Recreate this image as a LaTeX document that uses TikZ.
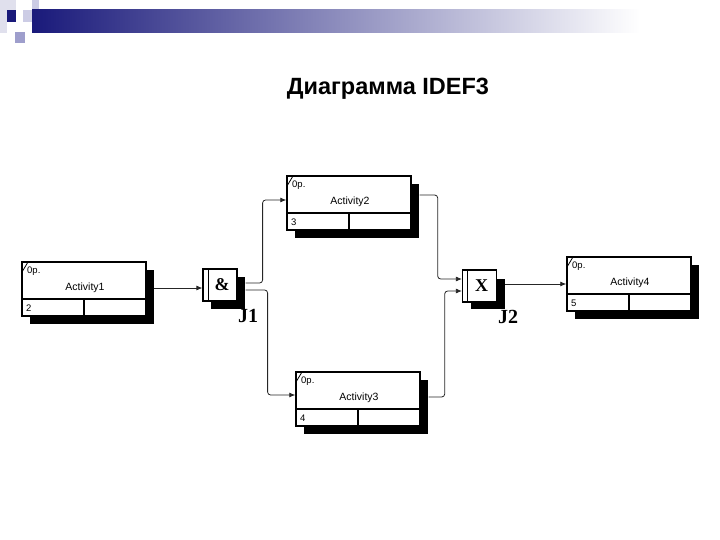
\documentclass[tikz,border=0pt]{standalone}
\usepackage{fontspec}
\setmainfont{Liberation Sans}
\newfontfamily\serifb{Liberation Serif}
\usetikzlibrary{calc,arrows.meta}
\definecolor{navy}{rgb}{0.10,0.10,0.48}
\definecolor{pale}{rgb}{0.88,0.88,0.93}
\definecolor{lav}{rgb}{0.80,0.80,0.90}
\definecolor{lav2}{rgb}{0.62,0.62,0.80}
\tikzset{
  actbox/.style={draw, line width=1.4pt, fill=white, minimum width=124pt, minimum height=54pt, inner sep=0pt},
  jbox/.style={draw, line width=1.2pt, fill=white, minimum width=34pt, minimum height=32pt, inner sep=0pt,
    font=\serifb\bfseries\fontsize{18}{18}\selectfont},
  jlbl/.style={font=\serifb\bfseries\fontsize{20}{20}\selectfont, inner sep=0pt},
  acttext/.style={font=\fontsize{10.5}{11}\selectfont, inner sep=0pt},
  smalltext/.style={font=\fontsize{9.5}{10}\selectfont, inner sep=0pt, anchor=west},
  conn/.style={draw=black!85, line width=0.8pt, rounded corners=3pt},
  arr/.style={-{Latex[length=6pt,width=5pt]}},
  shadowfill/.style={fill=black}
}
\newcommand\actv[5]{%
  \fill[shadowfill] (#2+8,#3+8) rectangle (#2+132,#3+62);
  \node[actbox] (#1) at (#2+62,#3+27) {};
  \draw[line width=1.4pt] (#2,#3+37) -- (#2+124,#3+37);
  \draw[line width=1.2pt] (#2+62,#3+37) -- (#2+62,#3+54);
  \draw[line width=0.8pt] (#2,#3+10) -- (#2+6,#3);
  \node[smalltext] (#1-op) at (#2+5,#3+9) {0p.};
  \node[acttext] (#1-t) at (#2+63,#3+26) {#4};
  \node[smalltext] (#1-n) at (#2+4,#3+46) {#5};
}
\begin{document}
\begin{tikzpicture}[x=1pt,y=-1pt]
\useasboundingbox (0,0) rectangle (720,540);
% header decoration
\fill[pale] (0,0) rectangle (16,10);
\fill[pale] (0,10) rectangle (7,33);
\fill[navy] (7,10) rectangle (16,22);
\fill[lav] (23,10) rectangle (39,22);
\fill[lav] (32,0) rectangle (39,10);
\fill[lav2] (15,32) rectangle (25,43);
\shade[left color=navy, right color=white] (32,10) rectangle (640,33);
\node[font=\bfseries\fontsize{23.5}{24}\selectfont, inner sep=0pt] (title) at (388,89) {Диаграмма IDEF3};
% activities
\actv{a1}{22}{262}{Activity1}{2}
\actv{a2}{287}{176}{Activity2}{3}
\actv{a3}{296}{372}{Activity3}{4}
\actv{a4}{567}{257}{Activity4}{5}
% junctions
\fill[shadowfill] (211,277) rectangle (245,309);
\node[jbox] (j1) at (220,285) {\hspace{4pt}\&};
\draw[line width=1pt] (208,269) -- (208,301);
\node[jlbl] (j1l) at (248,316) {J1};
\fill[shadowfill] (471,279) rectangle (505,309);
\node[jbox] (j2) at (479.5,286) {\hspace{4pt}X};
\draw[line width=1pt] (467,270) -- (467,302);
\node[jlbl] (j2l) at (508,317) {J2};
% connectors
\draw[conn,arr] ($(a1.east)+(7,-1)$) -- ($(j1.west)+(0,3)$);
\draw[conn,arr] ($(j1.east)+(8,-2)$) -- ++(17,0) |- ($(a2.west)+(0,-3)$);
\draw[conn,arr] ($(j1.east)+(8,5)$) -- ++(22,0) |- ($(a3.west)+(0,-4)$);
\draw[conn,arr] ($(a2.east)+(8,-8)$) -- ++(18,0) |- ($(j2.west)+(0,-7)$);
\draw[conn,arr] ($(a3.east)+(8,-2)$) -- ++(16,0) |- ($(j2.west)+(0,5)$);
\draw[conn,arr] ($(j2.east)+(8,-2)$) -- (a4.west);
\end{tikzpicture}
\end{document}
